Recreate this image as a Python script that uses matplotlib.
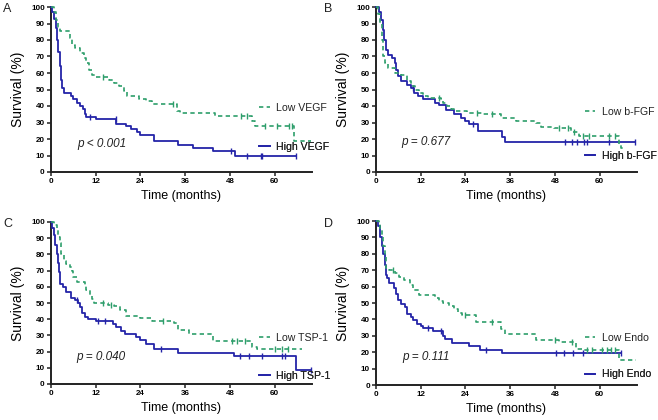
import numpy as np
import matplotlib
matplotlib.use("Agg")
import matplotlib.pyplot as plt
from matplotlib.lines import Line2D

plt.rcParams['font.family'] = ['Liberation Sans', 'DejaVu Sans']

GREEN = '#2E9E6B'
BLUE = '#2424A8'

# ---------------- data (months, survival %) ----------------
# Panel A: VEGF
a_low_t = [0, 0.7, 1.3, 1.8, 2.5, 5.0, 5.7, 6.5, 7.8, 8.8, 9.5, 10.3, 11.0, 11.8, 15.5, 17.0, 18.3, 19.5, 20.5, 23.5, 25.5, 27.0, 33.8, 34.6, 44.0, 53.8, 54.8, 65.2]
a_low_s = [100, 97, 92, 88, 85.5, 81, 77, 75, 72, 69, 66, 62, 59, 57.5, 56, 54, 52, 49, 46, 44, 43, 41, 37, 35.5, 34, 31, 28, 19]
a_low_end = 69.8
a_low_cens = [14.0, 32.8, 50.9, 52.6, 57.5, 60.5, 63.8, 64.7]
a_high_t = [0, 0.4, 0.9, 1.3, 1.7, 2.0, 2.3, 2.6, 3.0, 3.5, 5.3, 6.0, 7.0, 7.8, 8.5, 9.0, 9.5, 12.0, 17.5, 20.0, 21.5, 23.0, 24.0, 27.5, 34.0, 38.0, 43.5, 49.3]
a_high_s = [100, 97, 93, 87, 80, 73, 64, 56, 51, 48, 46, 44, 42, 40, 38, 35, 33.5, 32, 29, 28, 26, 24.5, 22.5, 18.5, 16.5, 14.5, 12.5, 10]
a_high_end = 65.6
a_high_cens = [10.5, 17.3, 48.4, 52.6, 56.2, 56.7]

# Panel B: b-FGF
b_low_t = [0, 0.5, 1.0, 1.5, 2.0, 2.5, 3.3, 5.2, 6.8, 8.3, 9.5, 10.5, 11.5, 12.5, 14.0, 17.3, 18.0, 19.0, 20.0, 21.0, 24.5, 28.6, 33.5, 37.5, 43.0, 44.2, 47.8, 52.2, 54.5, 65.2, 65.8]
b_low_s = [100, 96, 90, 80, 70, 66, 63, 60, 59, 55, 52, 50, 48, 46, 45, 44, 42, 40, 38, 37, 36, 35, 32.5, 31, 29.5, 27.5, 26.5, 24.5, 21.8, 17, 14.3]
b_low_end = 67.0
b_low_cens = [17.0, 27.0, 31.0, 49.0, 51.5, 53.0, 55.5, 57.0, 62.5, 64.0]
b_high_t = [0, 0.7, 1.3, 1.8, 2.2, 2.6, 3.3, 4.3, 5.0, 5.4, 5.9, 6.8, 8.3, 9.5, 10.3, 11.3, 12.5, 15.7, 16.8, 18.8, 20.8, 22.8, 24.0, 25.0, 27.3, 33.8, 34.6]
b_high_s = [100, 97, 92, 86, 80, 74, 71, 69, 66, 62, 58, 55, 53, 51, 48, 46, 44, 42, 40.5, 37.5, 35, 33, 31, 29, 25, 21.5, 18]
b_high_end = 69.4
b_high_cens = [10.0, 26.0, 50.7, 52.5, 54.0, 55.8, 56.7, 62.5]

# Panel C: TSP-1
c_low_t = [0, 0.9, 1.5, 1.9, 2.3, 2.8, 3.4, 4.0, 5.2, 5.6, 6.0, 6.9, 9.0, 9.5, 10.5, 11.0, 11.6, 15.3, 17.0, 18.5, 20.0, 24.0, 27.0, 33.0, 34.0, 36.9, 43.5, 54.0, 55.3]
c_low_s = [100, 98, 95, 91, 87, 80, 76, 74, 72, 70, 66, 63, 61, 58, 55, 52.5, 50, 49, 48, 45.5, 42, 40.5, 39, 37.4, 33.3, 31, 26.7, 23, 21.5]
c_low_end = 67.2
c_low_cens = [14.0, 16.0, 30.0, 48.5, 50.0, 52.0, 60.0, 62.0, 63.5]
c_high_t = [0, 0.4, 0.9, 1.2, 1.5, 1.9, 2.2, 2.5, 3.3, 4.0, 5.3, 6.5, 7.3, 7.9, 8.4, 9.0, 9.8, 12.0, 16.6, 17.5, 18.7, 19.8, 22.8, 24.0, 25.5, 27.5, 34.0, 49.0, 65.6]
c_high_s = [100, 96, 92, 86, 80, 75, 69, 62, 60, 57, 53, 52, 50, 47.5, 44, 41.5, 40, 39, 37, 35, 33, 31, 29, 27, 25, 21.5, 19.3, 17.3, 8.6]
c_high_end = 69.8
c_high_cens = [7.0, 12.5, 14.5, 29.6, 50.8, 53.0, 56.6, 62.0, 62.7]

# Panel D: Endostatin
d_low_t = [0, 0.8, 1.1, 1.5, 2.0, 2.4, 2.8, 3.5, 5.2, 6.3, 7.5, 9.0, 10.0, 11.5, 15.8, 17.0, 18.0, 19.5, 21.0, 22.0, 23.0, 26.9, 33.6, 34.5, 43.0, 49.2, 53.7, 55.4, 65.2]
d_low_s = [100, 98, 95, 90, 85, 78, 71.5, 70, 68, 66, 64, 61, 58, 55, 53, 51, 50, 48, 46.5, 44, 42.5, 38.4, 34.4, 31.3, 27.3, 26.2, 22.2, 21.2, 15]
d_low_end = 69.7
d_low_cens = [4.5, 24.0, 31.0, 48.0, 52.5, 56.5, 58.0, 60.5, 62.0, 63.0, 64.0]
d_high_t = [0, 0.5, 1.0, 1.6, 2.0, 2.3, 2.7, 3.0, 3.5, 4.7, 5.3, 5.9, 6.8, 7.8, 8.4, 9.3, 10.0, 11.0, 12.0, 12.6, 15.3, 18.0, 18.5, 20.5, 25.0, 27.8, 33.8]
d_high_s = [100, 97, 90, 85, 80, 73, 67, 65, 62, 59, 55.7, 51.6, 49.6, 47.6, 43.5, 41.5, 39.4, 37.4, 36, 35, 33, 30, 28, 25.6, 23.6, 21.6, 19.5]
d_high_end = 65.7
d_high_cens = [14.0, 17.5, 29.6, 48.3, 50.5, 52.8, 55.4]

panel_letters = ['A', 'B', 'C', 'D']
low_labels = ['Low VEGF', 'Low b-FGF', 'Low TSP-1', 'Low Endo']
high_labels = ['High VEGF', 'High b-FGF', 'High TSP-1', 'High Endo']
p_texts = ['p < 0.001', 'p = 0.677', 'p = 0.040', 'p = 0.111']
x_ticks = [0, 12, 24, 36, 48, 60]
y_ticks = [0, 10, 20, 30, 40, 50, 60, 70, 80, 90, 100]

panels = [
    (a_low_t, a_low_s, a_low_end, a_low_cens, a_high_t, a_high_s, a_high_end, a_high_cens),
    (b_low_t, b_low_s, b_low_end, b_low_cens, b_high_t, b_high_s, b_high_end, b_high_cens),
    (c_low_t, c_low_s, c_low_end, c_low_cens, c_high_t, c_high_s, c_high_end, c_high_cens),
    (d_low_t, d_low_s, d_low_end, d_low_cens, d_high_t, d_high_s, d_high_end, d_high_cens),
]

# ---------------- layout ----------------
W, H = 658, 420
fig = plt.figure(figsize=(W / 100, H / 100), dpi=100)
axes_px = [  # left, top, right, bottom (pixels)
    (51, 7, 312, 172),
    (376, 7, 637, 172),
    (51, 222, 312, 384),
    (376, 221, 637, 385),
]
letter_px = [(3, 3), (324, 3), (3, 218), (324, 218)]
leg_pos = [  # (x, y_low, y_high) axes fraction
    (0.797, 0.388, 0.152),
    (0.800, 0.364, 0.097),
    (0.797, 0.285, 0.051),
    (0.800, 0.287, 0.065),
]
p_pos = [(0.10, 0.17), (0.098, 0.184), (0.098, 0.168), (0.10, 0.17)]


def step_value(t, s, x):
    i = np.searchsorted(np.asarray(t), x, side='right') - 1
    return np.asarray(s)[i]


for k, (lt, ls, lend, lc, ht, hs, hend, hc) in enumerate(panels):
    l, tp, r, b = axes_px[k]
    ax = fig.add_axes([l / W, 1 - b / H, (r - l) / W, (b - tp) / H])
    ax.set_xlim(0, 70)
    ax.set_ylim(0, 100)

    # high (blue solid)
    tx = list(ht) + [hend]
    sx = list(hs) + [hs[-1]]
    ax.plot(tx, sx, drawstyle='steps-post', color=BLUE, lw=1.3, clip_on=False, zorder=3)
    cv = [step_value(ht, hs, c) for c in hc] + [hs[-1]]
    ax.plot(list(hc) + [hend], cv, ls='none', marker='|', ms=4, mew=1.0, color=BLUE, clip_on=False, zorder=3)

    # low (green dashed)
    tx = list(lt) + [lend]
    sx = list(ls) + [ls[-1]]
    ax.plot(tx, sx, drawstyle='steps-post', color=GREEN, lw=1.2, dashes=(2.6, 2.0), clip_on=False, zorder=4)
    cv = [step_value(lt, ls, c) for c in lc]
    ax.plot(lc, cv, ls='none', marker='|', ms=4, mew=1.0, color=GREEN, clip_on=False, zorder=4)

    for sp in ['top', 'right']:
        ax.spines[sp].set_visible(False)
    for sp in ['left', 'bottom']:
        ax.spines[sp].set_linewidth(1.4)
        ax.spines[sp].set_color('#222222')
    ax.set_xticks(x_ticks)
    ax.set_yticks(y_ticks)
    ax.tick_params(axis='both', length=3, width=1.1, color='#222222', labelsize=5.8, pad=1.5)
    for lab in ax.get_xticklabels() + ax.get_yticklabels():
        lab.set_fontweight('bold')
    ax.set_xlabel('Time (months)', fontsize=9)
    ax.set_ylabel('Survival (%)', fontsize=10)
    ax.xaxis.set_label_coords(0.5, -0.112)
    ax.yaxis.set_label_coords(-0.10, 0.5)

    lx, ly_low, ly_high = leg_pos[k]
    h_low = Line2D([], [], color=GREEN, lw=1.2, dashes=(2.6, 2.0))
    h_high = Line2D([], [], color=BLUE, lw=1.3)
    for h, lab, yy in [(h_low, low_labels[k], ly_low), (h_high, high_labels[k], ly_high)]:
        leg = ax.legend([h], [lab], loc='center left', bbox_to_anchor=(lx, yy),
                        frameon=False, fontsize=7.6, handlelength=1.0, handletextpad=0.6,
                        borderpad=0, borderaxespad=0)
        ax.add_artist(leg)
        for t_ in leg.get_texts():
            t_.set_color('#222222')

    ax.text(p_pos[k][0], p_pos[k][1], p_texts[k], transform=ax.transAxes, fontsize=8.5,
            style='italic', va='center', ha='left', color='#222222')

    fx, fy = letter_px[k]
    fig.text(fx / W, 1 - fy / H, panel_letters[k], fontsize=9, va='top', ha='left', color='#222222')

fig.savefig('out.png', dpi=100)
